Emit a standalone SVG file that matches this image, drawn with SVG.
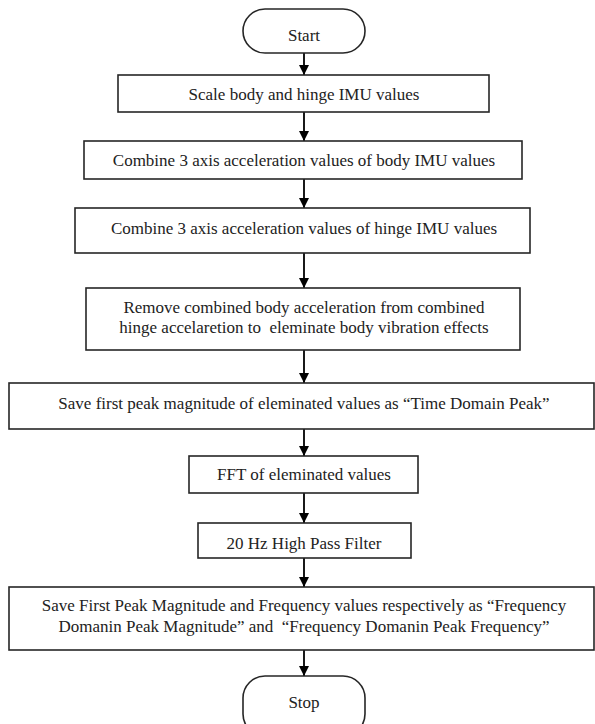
<svg xmlns="http://www.w3.org/2000/svg" width="595" height="724" viewBox="0 0 595 724">
<defs>
<style>
.box{fill:#fff;stroke:#262626;stroke-width:1.6}
.t{font-family:"Liberation Serif","Times New Roman",serif;font-size:17px;fill:#222;text-anchor:middle;white-space:pre}
.c{stroke:#000;stroke-width:1.8;fill:none;marker-end:url(#ah)}
</style>
<marker id="ah" viewBox="0 0 10 10" refX="10" refY="5" markerWidth="10" markerHeight="10" markerUnits="userSpaceOnUse" orient="auto">
<path d="M0,0 L10,5 L0,10 z" fill="#000"/>
</marker>
</defs>
<rect width="595" height="724" fill="#fff"/>
<g id="connectors">
<line class="c" x1="304" y1="53" x2="304" y2="75"/>
<line class="c" x1="304" y1="112" x2="304" y2="141"/>
<line class="c" x1="304" y1="179" x2="304" y2="208"/>
<line class="c" x1="304" y1="253" x2="304" y2="288"/>
<line class="c" x1="304" y1="350" x2="304" y2="383"/>
<line class="c" x1="304" y1="429" x2="304" y2="456"/>
<line class="c" x1="304" y1="493" x2="304" y2="523"/>
<line class="c" x1="304" y1="558" x2="304" y2="587"/>
<line class="c" x1="304" y1="650" x2="304" y2="676"/>
</g>
<g id="start">
<rect class="box" x="243" y="9" width="122" height="44" rx="22" ry="22"/>
<text class="t" x="304" y="41">Start</text>
</g>
<g id="n1">
<rect class="box" x="118" y="75" width="371" height="37"/>
<text class="t" x="304" y="99.5">Scale body and hinge IMU values</text>
</g>
<g id="n2">
<rect class="box" x="84" y="141" width="438" height="38"/>
<text class="t" x="304" y="166">Combine 3 axis acceleration values of body IMU values</text>
</g>
<g id="n3">
<rect class="box" x="75" y="208" width="455" height="45"/>
<text class="t" x="304" y="234">Combine 3 axis acceleration values of hinge IMU values</text>
</g>
<g id="n4">
<rect class="box" x="86" y="288" width="434" height="62"/>
<text class="t" x="304" y="313">Remove combined body acceleration from combined</text>
<text class="t" x="304" y="333" xml:space="preserve">hinge accelaretion to  eleminate body vibration effects</text>
</g>
<g id="n5">
<rect class="box" x="9" y="383" width="585" height="46"/>
<text class="t" x="304" y="409">Save first peak magnitude of eleminated values as “Time Domain Peak”</text>
</g>
<g id="n6">
<rect class="box" x="189" y="456" width="229" height="37"/>
<text class="t" x="304" y="480">FFT of eleminated values</text>
</g>
<g id="n7">
<rect class="box" x="198" y="523" width="213" height="35"/>
<text class="t" x="304" y="549">20 Hz High Pass Filter</text>
</g>
<g id="n8">
<rect class="box" x="9" y="587" width="585" height="63"/>
<text class="t" x="304" y="611">Save First Peak Magnitude and Frequency values respectively as “Frequency</text>
<text class="t" x="304" y="632" xml:space="preserve">Domanin Peak Magnitude” and  “Frequency Domanin Peak Frequency”</text>
</g>
<g id="stop">
<rect class="box" x="243" y="676" width="122" height="60" rx="22" ry="22"/>
<text class="t" x="304" y="708">Stop</text>
</g>
</svg>
